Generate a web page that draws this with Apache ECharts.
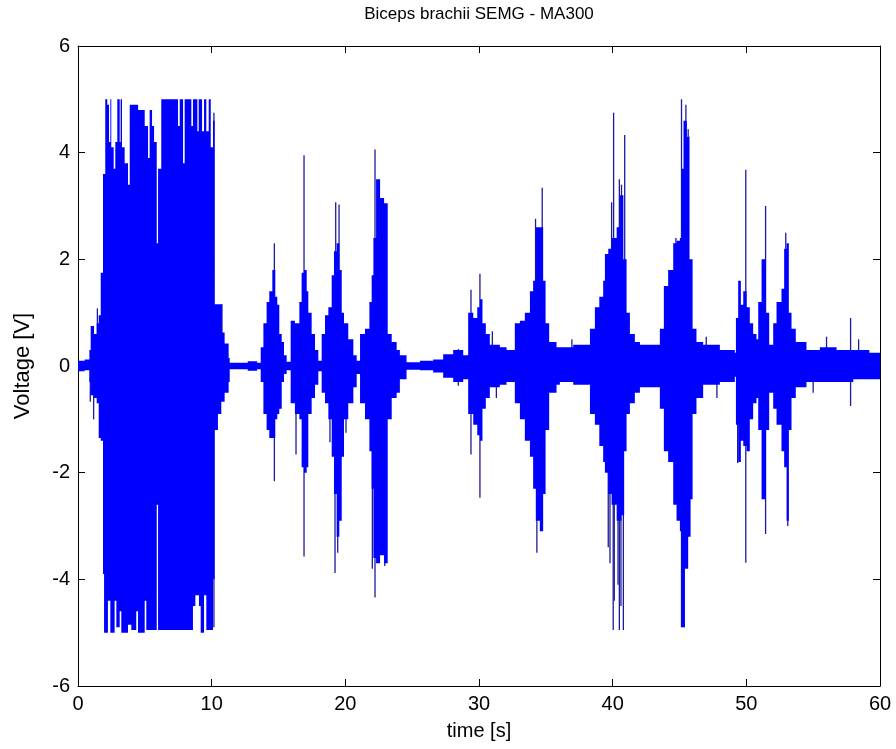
<!DOCTYPE html>
<html>
<head>
<meta charset="utf-8">
<title>Biceps brachii SEMG - MA300</title>
<script src="https://cdn.jsdelivr.net/npm/echarts@6/dist/echarts.min.js"></script>
<style>
  html, body { margin: 0; padding: 0; background: #ffffff; }
  #chart { width: 896px; height: 749px; }
</style>
</head>
<body>
<div id="chart"></div>
<script>
// Upper envelope of the dense SEMG trace: breakpoint times [s] and peak voltage [V]
const upperTime = [0, 0.5, 0.85, 0.95, 1.2, 1.4, 1.55, 1.7, 1.87, 2.04, 2.19, 2.32, 2.42, 2.49, 2.67, 2.79, 2.94, 3.12, 3.19, 3.29, 3.49, 3.74, 3.87, 4.5, 4.99, 5.24, 5.36, 5.54, 5.69, 5.89, 5.99, 6.23, 7.48, 7.61, 7.86, 7.98, 8.48, 8.6, 8.93, 9.03, 9.28, 9.43, 9.6, 9.78, 9.93, 10.1, 10.22, 10.77, 10.97, 11.27, 11.35,
  12.7, 13.4, 13.67, 13.87, 14.11, 14.31, 14.54, 14.76, 14.91, 15.06, 15.24, 15.41, 15.61,
  15.91, 16.23, 16.56, 16.73, 16.91, 17.11, 17.23, 17.48, 17.73, 17.98,
  18.23, 18.48, 18.73, 18.98, 19.15, 19.35, 19.55, 19.73, 19.9, 20.22, 20.6, 20.85,
  21.1, 21.47, 21.8, 21.97, 22.1, 22.3, 22.6, 22.9, 23.17, 23.47, 23.84,
  24.08, 24.58, 25.58, 26.57, 27.32, 28.07, 28.82,
  29.19, 29.57, 29.87, 30.07, 30.26, 30.51, 30.81, 31.56, 32.06,
  32.68, 33.06, 33.43, 33.81, 34.05, 34.25, 34.55, 34.8, 34.98, 35.25, 35.8,
  36.05, 37.05, 38.3, 38.67, 39.0, 39.29, 39.42, 39.67, 39.92, 40.3, 40.55, 40.8, 41.04, 41.29, 41.66, 42.04,
  43.53, 43.83, 44.15, 44.53, 44.78, 45.03, 45.15, 45.3, 45.55, 45.75, 45.98, 46.27, 46.77,
  48.02, 49.14, 49.22, 49.39, 49.59, 49.77, 50.02, 50.26, 50.51, 50.76, 50.89, 51.14, 51.46, 51.71,
  52.01, 52.26, 52.63, 52.83, 53.01, 53.18, 53.38, 53.7, 54.5, 55.5, 56.75, 58.0, 59.2, 60];
const upperVolt = [0.10, 0.12, 0.30, 0.75, 0.6, 0.8, 0.95, 1.75, 3.6, 5.0, 4.9, 4.2, 5.0, 4.1, 3.7, 4.2, 5.0, 4.2, 5.0, 4.1, 3.8, 3.4, 4.9, 4.8, 4.5, 3.9, 4.8, 4.5, 4.2, 2.3, 3.7, 5.0, 4.5, 5.0, 3.8, 5.0, 4.5, 5.0, 4.4, 5.0, 4.4, 5.0, 4.4, 5.0, 4.1, 4.6, 1.16, 0.63, 0.42, 0.15, 0.06,
  0.09, 0.06, 0.35, 0.8, 1.2, 1.4, 1.8, 1.3, 1.15, 0.6, 0.45, 0.2, 0.08,
  0.85, 0.8, 1.2, 1.75, 1.8, 1.4, 1.0, 0.6, 0.3, 0.1,
  0.6, 0.95, 1.1, 1.7, 2.15, 2.3, 1.8, 1.0, 0.8, 0.5, 0.2, 0.1,
  0.6, 0.7, 1.2, 1.7, 2.4, 3.5, 3.15, 3.05, 0.6, 0.45, 0.3,
  0.2, 0.07, 0.1, 0.12, 0.22, 0.3, 0.2,
  1.0, 0.9, 1.1, 1.25, 0.8, 0.6, 0.4, 0.35, 0.3,
  0.8, 0.85, 1.0, 1.4, 1.6, 2.6, 2.6, 1.6, 0.8, 0.45, 0.35,
  0.35, 0.4, 0.7, 1.1, 1.3, 1.6, 2.1, 2.2, 2.4, 2.6, 3.2, 2.0, 1.0, 0.6, 0.45, 0.4,
  0.7, 1.5, 1.8, 2.3, 2.35, 2.4, 3.7, 4.6, 4.3, 2.0, 0.7, 0.45, 0.4,
  0.3, 0.25, 0.9, 1.6, 1.15, 1.4, 1.1, 0.8, 0.6, 0.5, 1.2, 2.0, 1.0, 0.4,
  0.8, 1.2, 1.45, 2.2, 2.3, 1.0, 0.7, 0.45, 0.3, 0.35, 0.3, 0.3, 0.25, 0.2];

// Lower envelope of the dense SEMG trace: breakpoint times [s] and trough voltage [V]
const lowerTime = [0, 0.5, 0.85, 0.95, 1.2, 1.4, 1.55, 1.7, 1.87, 1.95, 2.24, 2.42, 2.74, 2.87, 3.12, 3.24, 3.74, 3.99, 4.36, 4.49, 4.99, 5.11, 5.89, 5.99, 8.6, 8.78, 9.05, 9.18, 9.43, 9.6, 10.1, 10.22, 10.47, 10.72, 10.97, 11.27, 11.35,
  12.7, 13.4, 13.67, 13.87, 14.11, 14.31, 14.54, 14.76, 14.91, 15.06, 15.24, 15.41, 15.61,
  15.91, 16.23, 16.56, 16.73, 16.91, 17.11, 17.23, 17.48, 17.73, 17.98,
  18.23, 18.48, 18.73, 18.98, 19.15, 19.35, 19.55, 19.73, 19.9, 20.22, 20.6, 20.85,
  21.1, 21.47, 21.8, 21.97, 22.1, 22.3, 22.6, 22.9, 23.17, 23.47, 23.84,
  24.08, 24.58, 25.58, 26.57, 27.32, 28.07, 28.82,
  29.19, 29.57, 29.87, 30.07, 30.26, 30.51, 30.81, 31.56, 32.06,
  32.68, 33.06, 33.43, 33.81, 34.05, 34.25, 34.55, 34.8, 34.98, 35.25, 35.8,
  36.05, 37.05, 38.3, 38.67, 39.0, 39.29, 39.42, 39.67, 39.92, 40.3, 40.66, 40.86, 41.04, 41.29, 41.66, 42.04,
  43.53, 43.83, 44.15, 44.53, 44.78, 45.03, 45.15, 45.4, 45.65, 45.83, 45.98, 46.27, 46.77,
  48.02, 49.14, 49.22, 49.39, 49.59, 49.77, 50.02, 50.26, 50.51, 50.76, 50.89, 51.14, 51.46, 51.71,
  52.01, 52.26, 52.63, 52.83, 53.01, 53.18, 53.38, 53.7, 54.5, 55.5, 56.75, 58.0, 59.2, 60];
const lowerVolt = [-0.1, -0.08, -0.3, -0.55, -0.6, -0.7, -1.35, -1.4, -3.9, -5.0, -4.4, -5.0, -4.4, -4.9, -4.6, -5.0, -4.85, -4.95, -4.6, -5.0, -4.4, -4.95, -2.6, -4.95, -4.5, -4.3, -4.5, -5.0, -4.3, -4.95, -4.0, -1.2, -0.9, -0.67, -0.5, -0.3, -0.06,
  -0.09, -0.06, -0.3, -0.9, -1.2, -1.35, -1.35, -1.0, -0.9, -0.8, -0.3, -0.15, -0.08,
  -0.7, -0.9, -1.0, -1.9, -2.0, -1.9, -0.9, -0.6, -0.35, -0.1,
  -0.5, -0.7, -1.0, -1.7, -2.4, -3.2, -2.9, -1.7, -1.0, -0.7, -0.4, -0.15,
  -0.7, -1.0, -1.6, -2.3, -3.6, -3.7, -3.55, -3.7, -1.0, -0.6, -0.5,
  -0.25, -0.07, -0.08, -0.12, -0.22, -0.3, -0.25,
  -0.9, -1.1, -1.3, -1.4, -0.8, -0.6, -0.4, -0.35, -0.3,
  -0.7, -1.0, -1.4, -1.7, -2.3, -2.9, -3.1, -2.4, -1.2, -0.5, -0.35,
  -0.3, -0.35, -0.9, -1.1, -1.5, -1.8, -2.0, -2.4, -2.6, -2.9, -2.8, -1.6, -0.9, -0.7, -0.5, -0.4,
  -0.8, -1.6, -1.8, -2.6, -2.9, -3.1, -4.9, -3.8, -3.2, -2.5, -0.9, -0.6, -0.35,
  -0.3, -0.2, -1.1, -1.8, -1.4, -1.5, -1.6, -1.0, -0.7, -0.6, -1.2, -2.5, -1.2, -0.5,
  -0.8, -1.1, -1.6, -1.9, -2.9, -1.2, -0.6, -0.4, -0.3, -0.3, -0.3, -0.25, -0.25, -0.2];

// Isolated single-sample spikes that stand out beyond the envelope
const spikeTime = [0.92, 1.17, 1.45, 10.17, 10.17, 10.77, 11.02,
  14.69, 14.69, 16.31, 16.91, 16.91,
  18.85, 19.28, 19.53, 19.23, 19.43, 20.05,
  22.02, 22.22, 22.22, 22.95,
  28.45, 28.45, 29.4, 29.4, 30.07, 30.07, 31.0, 31.3,
  34.23, 34.73, 34.33, 36.95,
  39.67, 39.8, 39.92, 40.04, 40.07, 40.12, 40.4, 40.5, 40.5, 40.62, 40.66, 40.8, 40.9,
  44.73, 45.15, 45.15, 45.35, 45.48, 45.65, 45.55, 47.0, 47.8,
  49.35, 49.96, 49.96, 51.44, 51.44, 52.95, 53.1, 55.0, 56.0, 57.8, 57.8, 58.4];
const spikeVolt = [-0.67, -1.0, 1.08, 4.75, -4.9, 1.16, -0.45,
  2.3, -2.16, -1.66, 3.95, -3.57,
  -1.43, 3.07, 3.03, -3.88, -3.5, -1.25,
  -3.8, 4.06, -4.34, -3.75,
  0.32, -0.37, 1.43, -1.66, 1.73, -2.47, 0.65, -0.6,
  2.76, 3.34, -3.5, 0.5,
  -3.4, -3.7, 3.07, -4.95, 4.75, -4.4, -4.1, 3.5, -4.95, -4.5, 3.4, -4.95, 4.33,
  2.4, 5.0, -4.9, -4.9, 4.9, 4.44, -3.7, 0.55, -0.6,
  -1.82, 3.68, -3.69, 3.0, -3.15, 2.5, -3.0, -0.5, 0.55, 0.9, -0.75, 0.5];

// Axis tick values
const xTicks = [0, 10, 20, 30, 40, 50, 60];
const yTicks = [-6, -4, -2, 0, 2, 4, 6];

const TRACE = '#0000ff';
const SPIKE = '#1c1c9a';
const FONT = "'Liberation Sans', Arial, sans-serif";

const envelopes = [
  { times: upperTime, volts: upperVolt },
  { times: lowerTime, volts: lowerVolt }
];

// Each envelope becomes one closed outline: held values between breakpoints, closed along 0 V
function renderEnvelope(params, api) {
  const env = envelopes[params.dataIndex];
  const pts = [];
  const n = env.times.length;
  for (let i = 0; i < n; i++) {
    pts.push(api.coord([env.times[i], env.volts[i]]));
    if (i + 1 < n) pts.push(api.coord([env.times[i + 1], env.volts[i]]));
  }
  pts.push(api.coord([env.times[n - 1], 0]));
  pts.push(api.coord([env.times[0], 0]));
  return { type: 'polygon', shape: { points: pts }, style: { fill: TRACE } };
}

// Each spike is a thin vertical stroke from 0 V to its sample value
function renderSpike(params, api) {
  const a = api.coord([api.value(0), 0]);
  const b = api.coord([api.value(0), api.value(1)]);
  return { type: 'line', shape: { x1: a[0], y1: a[1], x2: b[0], y2: b[1] }, style: { stroke: SPIKE, lineWidth: 1.3 } };
}

const chart = echarts.init(document.getElementById('chart'), null, { renderer: 'canvas' });

const baseX = {
  type: 'value', min: xTicks[0], max: xTicks[xTicks.length - 1], interval: xTicks[1] - xTicks[0],
  axisLine: { show: true, onZero: false, lineStyle: { color: '#000', width: 1 } },
  axisTick: { show: true, inside: true, length: 7, lineStyle: { color: '#000' } },
  splitLine: { show: false }
};
const baseY = {
  type: 'value', min: yTicks[0], max: yTicks[yTicks.length - 1], interval: yTicks[1] - yTicks[0],
  axisLine: { show: true, onZero: false, lineStyle: { color: '#000', width: 1 } },
  axisTick: { show: true, inside: true, length: 7, lineStyle: { color: '#000' } },
  splitLine: { show: false }
};

chart.setOption({
  animation: false,
  backgroundColor: '#ffffff',
  grid: { left: 78, right: 16, top: 46, bottom: 63, containLabel: false },
  graphic: [{
    type: 'text', x: 479, y: 14,
    style: { text: 'Biceps brachii SEMG - MA300', fill: '#000', font: '17px ' + FONT, textAlign: 'center', textVerticalAlign: 'middle' }
  }],
  xAxis: [
    Object.assign({}, baseX, {
      position: 'bottom',
      name: 'time [s]', nameLocation: 'middle', nameGap: 35,
      nameTextStyle: { color: '#000', fontSize: 20, fontFamily: FONT },
      axisLabel: { show: true, color: '#000', fontSize: 20, fontFamily: FONT, margin: 8 }
    }),
    Object.assign({}, baseX, { position: 'top', axisLabel: { show: false } })
  ],
  yAxis: [
    Object.assign({}, baseY, {
      position: 'left',
      name: 'Voltage [V]', nameLocation: 'middle', nameGap: 44,
      nameTextStyle: { color: '#000', fontSize: 22, fontFamily: FONT },
      axisLabel: { show: true, color: '#000', fontSize: 20, fontFamily: FONT, margin: 8 }
    }),
    Object.assign({}, baseY, { position: 'right', axisLabel: { show: false } })
  ],
  series: [
    {
      name: 'spikes', type: 'custom', xAxisIndex: 0, yAxisIndex: 0,
      data: spikeTime.map((t, i) => [t, spikeVolt[i]]), renderItem: renderSpike, z: 1,
      encode: { x: 0, y: 1 }
    },
    {
      name: 'envelope', type: 'custom', xAxisIndex: 0, yAxisIndex: 0,
      data: [[upperTime[0], Math.max(...upperVolt)], [lowerTime[0], Math.min(...lowerVolt)]],
      renderItem: renderEnvelope, z: 2, clip: true,
      encode: { x: 0, y: 1 }
    }
  ]
});
</script>
</body>
</html>
